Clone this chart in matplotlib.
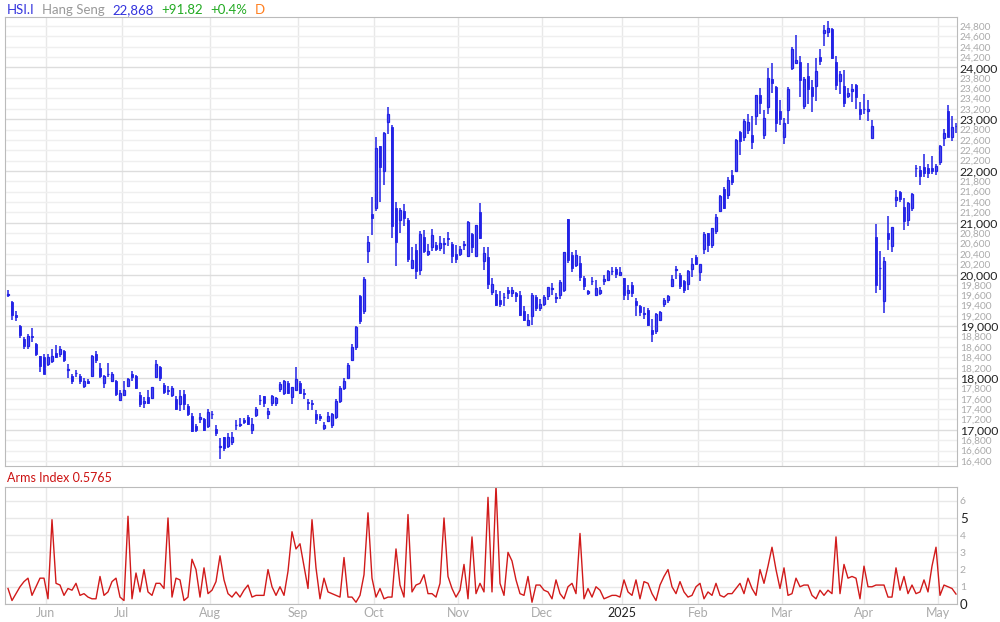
import matplotlib
matplotlib.use("Agg")
import matplotlib.pyplot as plt
import numpy as np

plt.rcParams['font.family'] = ['Lato', 'DejaVu Sans']

opens = [19600,19474,19220,19010,18745,18610,18820,18650,18420,18400,
18270,18335,18490,18460,18520,18160,18035,18090,18035,17840,
17950,18035,18460,18190,17910,18070,17945,17945,17575,17670,
17840,18070,18035,17670,17510,17640,17620,18020,18210,17860,
17760,17670,17600,17490,17700,17470,17270,17080,17200,17210,
17080,17300,17020,16670,16870,16680,16760,17090,17100,17190,
17250,16990,17280,17570,17650,17300,17520,17520,17780,17720,
17900,17640,17770,17910,17720,17530,17510,17310,17260,17040,
17180,17100,17250,17550,17800,18000,18350,18600,19590,19300,
20450,21160,21280,22490,21990,22950,22850,21280,21050,21220,
21050,20130,20470,20090,20720,20400,20530,20570,20510,20590,
20700,20590,20400,20400,20570,20360,20790,20360,21200,20260,
20340,19670,19630,19500,19560,19700,19640,19640,19610,19300,
19030,19190,19560,19350,19430,19590,19730,19550,19610,19700,
21070,20380,20180,20230,19930,19640,19870,19610,19650,19880,
19890,20060,20110,19990,19930,19650,19790,19490,19390,19240,
19320,18920,18900,19130,19440,19500,19780,20090,19990,19870,
19820,20110,20330,20050,20490,20810,20570,20850,21220,21660,
21530,21930,22000,22750,22660,22790,22700,23060,23460,22700,
23230,23770,23620,23160,22660,23170,23980,24090,24110,23250,
23840,23620,23640,24200,24670,24690,24750,24100,23730,23640,
23450,23540,23660,23190,23190,23150,22640,20720,20120,19490,
20810,20550,21430,21600,21310,21050,21290,22050,22020,22070,
22060,22060,22000,22180,22640,23160,22650,22860]

closes = [19630,19225,19180,18840,18610,18820,18800,18460,18230,18075,
18400,18430,18400,18560,18340,18170,17940,18100,17940,17940,
17910,18420,18340,18035,18035,18080,18080,17690,17710,17760,
17975,18030,17800,17500,17550,17510,17820,18280,18010,17735,
17750,17800,17400,17660,17490,17300,16985,17000,17240,17000,
17340,17310,16930,16680,16640,16870,16870,17100,17110,17160,
17120,17120,17400,17575,17520,17370,17650,17620,17890,17935,
17720,17820,17980,17720,17690,17520,17490,17210,17230,17100,
17260,17300,17550,17800,17950,18250,18600,18990,19110,19915,
20630,21100,22450,22080,22730,23100,20930,20620,21240,21090,
20300,20280,20070,20780,20450,20450,20760,20490,20600,20600,
20680,20360,20300,20490,20580,21010,20530,20950,20700,20410,
19820,19820,19420,19430,19570,19650,19700,19580,19225,19130,
19130,19610,19360,19430,19560,19750,19740,19560,19860,20430,
20280,20130,20380,19950,19780,19680,19880,19740,19700,19920,
20060,20070,20010,20050,19610,19710,19640,19420,19280,19250,
19030,18860,19230,19280,19510,19580,19910,20100,19780,19700,
20070,20200,20210,20200,20780,20570,20890,21120,21510,21280,
21830,21790,22600,22580,22960,22940,22560,23460,23310,23020,
23790,23700,22920,23010,22920,23580,24360,24150,23750,23770,
23590,23450,23940,24120,24730,24760,24190,23670,23880,23310,
23500,23580,23430,23110,23200,23190,22860,19800,20130,20260,
20690,20910,21490,21450,21040,21380,21560,22060,21900,21960,
21960,22000,22100,22490,22730,22660,22840,22868]

highs = [19700,19490,19290,19030,18790,18860,18960,18680,18430,18470,
18470,18560,18640,18610,18540,18280,18080,18160,18080,18000,
17990,18440,18520,18290,18060,18290,18120,17960,17770,17940,
18010,18140,18060,17740,17640,17760,17830,18350,18240,17900,
17840,17850,17650,17760,17770,17500,17320,17120,17330,17230,
17400,17370,17100,16850,16870,16930,16950,17190,17220,17220,
17290,17220,17450,17670,17660,17420,17670,17640,17920,17960,
17940,17830,18210,17940,17780,17600,17570,17390,17310,17160,
17340,17330,17600,17850,18000,18300,18650,19010,19610,19950,
20750,21490,22660,22490,22760,23230,22890,21410,21280,21370,
21100,20540,20590,20850,20860,20580,20880,20630,20750,20700,
20830,20620,20570,20560,20640,21030,20800,20960,21390,20530,
20530,19930,19700,19680,19640,19750,19750,19670,19680,19400,
19230,19640,19600,19530,19600,19760,19830,19640,19900,20440,
21070,20430,20480,20360,19980,19710,19960,19900,19760,19990,
20080,20150,20150,20150,19940,19790,19850,19550,19420,19380,
19350,19140,19260,19290,19540,19600,20000,20170,20030,19890,
20090,20310,20380,20210,20830,20810,20900,21160,21530,21700,
21880,22020,22620,22780,23010,23100,23060,23470,23600,23170,
23990,24080,23650,23380,23020,23620,24400,24630,24220,23820,
24080,23750,24190,24360,24820,24900,24760,24230,23930,23950,
23600,23680,23680,23340,23480,23380,22980,20980,20450,20340,
21140,20920,21630,21620,21480,21400,21570,22120,22100,22330,
22130,22280,22130,22500,22820,23270,23060,22930]

lows = [19560,19130,19110,18770,18560,18560,18700,18420,18120,18075,
18240,18300,18380,18400,18320,18000,17880,18030,17880,17810,
17880,18020,18290,18000,17800,18020,17930,17660,17560,17650,
17830,17950,17780,17450,17420,17490,17600,18000,17950,17700,
17680,17640,17380,17370,17380,17270,16950,16960,17130,16980,
17040,17200,16880,16440,16600,16640,16700,17000,17060,17120,
17090,16920,17240,17480,17440,17210,17460,17460,17730,17680,
17700,17500,17750,17700,17600,17380,17380,17120,17180,16990,
17150,17040,17200,17520,17760,17980,18330,18540,19050,19240,
20230,20760,21220,21410,21720,22720,20700,20160,20800,20930,
20250,20130,19920,20000,20410,20350,20460,20450,20450,20400,
20550,20220,20220,20360,20470,20340,20420,20350,20680,20080,
19730,19610,19400,19380,19390,19520,19560,19460,19200,19100,
19030,19020,19300,19300,19400,19510,19600,19450,19520,19660,
20230,20050,20140,19880,19700,19600,19800,19580,19600,19790,
19880,20000,19940,19980,19500,19500,19560,19200,19190,19150,
19000,18690,18850,19100,19380,19450,19750,19920,19720,19650,
19700,19950,20190,19880,20400,20430,20520,20790,21200,21260,
21460,21720,21980,22300,22570,22710,22420,22890,23100,22620,
23100,23500,22760,22880,22520,22900,23950,24060,23430,23200,
23300,23130,23350,24040,24420,24580,24170,23560,23490,23240,
23400,23340,23200,22980,23100,22960,22640,19650,19700,19260,
20480,20440,21300,21400,20860,20940,21220,21880,21720,21880,
21860,21950,21920,22120,22480,22660,22580,22740]

arms = [0.9,0.2,0.6,1.0,1.3,1.5,0.5,1.0,1.5,1.5,
0.3,4.9,1.2,1.1,0.5,0.9,0.8,1.2,0.5,0.6,
0.4,0.3,0.3,1.6,0.5,0.7,1.3,1.5,0.4,0.2,
5.1,0.3,1.8,0.7,2.0,0.7,0.5,1.2,1.2,0.9,
5.0,0.4,1.5,1.4,0.2,0.4,2.6,2.0,0.4,2.1,
0.6,0.8,1.3,2.8,1.4,0.6,0.4,0.7,0.4,0.8,
1.1,0.4,0.5,0.5,0.5,2.0,1.0,0.5,1.0,0.5,
1.9,4.2,3.2,3.5,2.2,0.9,4.9,2.1,0.3,1.5,
0.7,0.6,0.5,0.4,
2.7,0.4,0.4,0.1,0.5,1.7,5.3,1.5,0.4,0.9,
0.3,0.4,0.4,3.2,1.1,0.4,5.2,0.7,1.1,1.2,
1.7,0.6,0.6,0.4,1.2,5.0,1.6,0.9,0.4,0.8,
2.3,0.3,3.9,0.6,1.2,0.7,6.2,0.7,6.9,1.2,
0.5,3.0,2.5,1.4,0.6,0.5,1.6,0.1,1.1,1.1,
0.8,0.7,0.3,1.4,0.6,0.3,1.0,1.2,0.6,4.1,
0.3,0.9,0.4,1.0,0.8,0.3,0.4,0.5,0.5,0.4,
1.4,0.7,0.5,1.4,0.3,1.3,1.2,0.6,0.2,1.1,
1.6,2.0,
1.0,0.6,1.3,0.7,0.4,0.5,1.0,
1.2,0.3,0.7,0.5,1.2,0.5,0.4,0.6,0.6,0.9,
1.2,0.6,1.5,0.9,0.5,2.0,1.2,2.2,3.3,2.0,
0.9,2.1,0.5,0.6,1.5,1.0,1.1,1.1,0.5,0.3,
0.8,0.5,0.8,0.6,3.9,0.6,2.3,1.5,1.6,1.5,
0.3,2.2,1.0,1.0,1.1,1.1,1.1,0.4,0.4,2.1,
0.8,1.6,0.6,1.1,0.6,0.7,1.4,0.7,2.2,3.3,
0.5,1.1,1.0,0.9,0.5765]

month_labels = ['Jun','Jul','Aug','Sep','Oct','Nov','Dec','2025','Feb','Mar','Apr','May']
month_pos = [10.5,29.5,51.5,73.5,92.5,113.5,134.5,154.5,173.5,194.5,215,233.5]

BLUE = '#2222e6'
GRID = '#e8e8e8'
SPINE = '#bbbbbb'
n = len(closes)
x = np.arange(1, n + 1)
o = np.array(opens, float); c = np.array(closes, float)
h = np.maximum(np.array(highs, float), np.maximum(o, c))
l = np.minimum(np.array(lows, float), np.minimum(o, c))

fig = plt.figure(figsize=(10, 6.22), dpi=100)
ax = fig.add_axes([0.005, 0.251, 0.952, 0.722])
ax2 = fig.add_axes([0.005, 0.029, 0.952, 0.188])

for a in (ax, ax2):
    for s in a.spines.values():
        s.set_color(SPINE)
    a.set_xlim(0.25, n + 0.25)
    a.set_xticks(month_pos)
    a.grid(True, color=GRID, lw=1)
    a.set_axisbelow(True)
    a.yaxis.tick_right()
    a.tick_params(axis='both', length=0, pad=2)

# price panel
ax.vlines(x, l, h, color=BLUE, lw=1.1)
up = c >= o
bottoms = np.minimum(o, c)
heights = np.maximum(np.abs(c - o), 12)
ax.bar(x[~up], heights[~up], bottom=bottoms[~up], width=0.72, color=BLUE, edgecolor=BLUE, lw=0.6)
ax.bar(x[up], heights[up], bottom=bottoms[up], width=0.62, color='white', edgecolor=BLUE, lw=0.9)
ax.set_ylim(16304, 24978)
yt = np.arange(16400, 24801, 200)
ax.set_yticks(yt)
ax.set_yticklabels([f'{v:,}' for v in yt])
for lab, v in zip(ax.get_yticklabels(), yt):
    if v % 1000 == 0:
        lab.set_color('#222222'); lab.set_fontsize(8.8)
    else:
        lab.set_color('#aaaaaa'); lab.set_fontsize(7.3)
ax.set_xticklabels([])
for gl, v in zip(ax.get_ygridlines(), yt):
    gl.set_color('#dddddd' if v % 1000 == 0 else '#efefef')

# arms panel
ax2.plot(x, arms, color='#d11a1a', lw=1)
ax2.set_ylim(0, 6.8)
ax2.set_yticks(range(0, 7))
for lab, v in zip(ax2.get_yticklabels(), range(7)):
    if v in (0, 5):
        lab.set_color('#222222'); lab.set_fontsize(9.5)
    else:
        lab.set_color('#aaaaaa'); lab.set_fontsize(7.5)
ax2.set_xticklabels(month_labels)
for lab in ax2.get_xticklabels():
    lab.set_fontsize(9)
    lab.set_color('#222222' if lab.get_text() == '2025' else '#aaaaaa')

# header texts
parts = [('HSI.I', '#3333dd'), ('Hang Seng', '#999999'), ('22,868', '#3333dd'),
         ('+91.82', '#22aa22'), ('+0.4%', '#22aa22'), ('D', '#ff7f1f')]
xx = 0.007
r = fig.canvas.get_renderer()
for t, col in parts:
    tx = fig.text(xx, 0.984, t, color=col, fontsize=9.5, va='center', ha='left')
    bb = tx.get_window_extent(renderer=r)
    xx += bb.width / 1000 + 0.0075
fig.text(0.007, 0.232, 'Arms Index 0.5765', color='#cc1111', fontsize=9, va='center', ha='left')

fig.savefig('out.png', dpi=100)
